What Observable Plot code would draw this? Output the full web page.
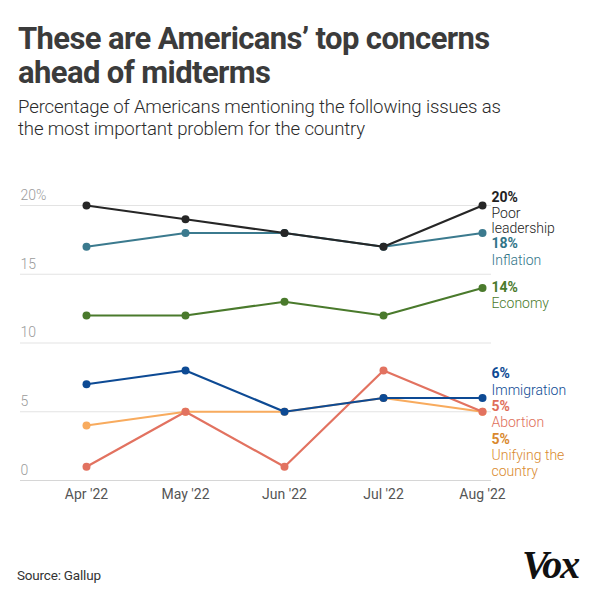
<!DOCTYPE html>
<html>
<head>
<meta charset="utf-8">
<script src="https://cdn.jsdelivr.net/npm/d3@7"></script>
<script src="https://cdn.jsdelivr.net/npm/@observablehq/plot@0.6"></script>
<style>
  html, body { margin: 0; padding: 0; background: #fff; }
  #wrap { position: relative; width: 600px; height: 600px; overflow: hidden; font-family: Roboto, "Noto Sans", sans-serif; }
  #chart { position: absolute; left: 0; top: 0; }
  .title { position: absolute; left: 18px; top: 22px; width: 580px; font-size: 31px; line-height: 34px; font-weight: 700; color: #3b3b3b; letter-spacing: -0.6px; }
  .subtitle { position: absolute; left: 18px; top: 96px; width: 580px; font-size: 18.6px; line-height: 22px; font-weight: 300; color: #2b2b2b; letter-spacing: -0.15px; }
  .source { position: absolute; left: 17px; top: 567px; font-size: 13.5px; font-weight: 400; color: #333; letter-spacing: -0.2px; }
  .logo { position: absolute; left: 522px; top: 541px; font-family: "Liberation Serif", serif; font-style: italic; font-weight: 700; font-size: 40px; letter-spacing: -2px; color: #111; }
</style>
</head>
<body>
<div id="wrap">
  <div id="chart"></div>
  <div class="title">These are Americans’ top concerns<br>ahead of midterms</div>
  <div class="subtitle">Percentage of Americans mentioning the following issues as<br>the most important problem for the country</div>
  <div class="source">Source: Gallup</div>
  <div class="logo">Vox</div>
</div>
<script>
const months = ["Apr '22", "May '22", "Jun '22", "Jul '22", "Aug '22"];
const poorLeadership = [20, 19, 18, 17, 20];
const inflation = [17, 18, 18, 17, 18];
const economy = [12, 12, 13, 12, 14];
const immigration = [7, 8, 5, 6, 6];
const abortion = [1, 5, 1, 8, 5];
const unifying = [4, 5, 5, 6, 5];
const yTicks = [0, 5, 10, 15, 20];
const yTickLabels = ["0", "5", "10", "15", "20%"];
const seriesNames = ["Unifying the country", "Abortion", "Immigration", "Economy", "Inflation", "Poor leadership"];
const seriesLabels = ["Unifying the\ncountry", "Abortion", "Immigration", "Economy", "Inflation", "Poor\nleadership"];
const seriesValues = [unifying, abortion, immigration, economy, inflation, poorLeadership];

// styles
const lineColor = {
  "Unifying the country": "#f8ab5e",
  "Abortion": "#e27260",
  "Immigration": "#0d4a94",
  "Economy": "#4a7a2c",
  "Inflation": "#3b7a8e",
  "Poor leadership": "#262626"
};
const textColor = {
  "Unifying the country": "#d9892e",
  "Abortion": "#e06e5a",
  "Immigration": "#0d4a94",
  "Economy": "#4a7a2c",
  "Inflation": "#2f7488",
  "Poor leadership": "#222"
};
// pixel nudges for the end labels [percent dy, name dy]
const labelNudge = {
  "Unifying the country": [28, 51.5],
  "Abortion": [-5, 10],
  "Immigration": [-24.5, -8.5],
  "Economy": [-0.5, 14.5],
  "Inflation": [10.5, 26.5],
  "Poor leadership": [-8, 15]
};

const rows = [];
seriesNames.forEach((s, si) => {
  months.forEach((m, mi) => rows.push({series: s, month: m, value: seriesValues[si][mi]}));
});
const last = seriesNames.map((s, si) => ({series: s, label: seriesLabels[si], month: months[months.length - 1], value: seriesValues[si][months.length - 1]}));

const marks = [
  Plot.ruleY(yTicks, {stroke: d => d === 0 ? "#d6d6d6" : "#e3e3e3", strokeWidth: 1.2}),
  Plot.text(yTicks, {y: d => d, text: (d, i) => yTickLabels[i], frameAnchor: "left", textAnchor: "start", dy: -10, fill: "#9b9b9b", fontSize: 14, fontWeight: 300}),
  Plot.axisX({tickSize: 0, tickPadding: 9, fontSize: 14, color: "#555", label: null})
];
seriesNames.forEach(s => {
  const data = rows.filter(r => r.series === s);
  marks.push(Plot.line(data, {x: "month", y: "value", stroke: lineColor[s], strokeWidth: 2.2}));
  marks.push(Plot.dot(data, {x: "month", y: "value", fill: lineColor[s], r: 4}));
});
last.forEach(d => {
  const [d1, d2] = labelNudge[d.series];
  marks.push(Plot.text([d], {x: "month", y: "value", text: r => r.value + "%", textAnchor: "start", dx: 9, dy: d1, fill: textColor[d.series], fontWeight: 700, fontSize: 14}));
  marks.push(Plot.text([d], {x: "month", y: "value", text: "label", textAnchor: "start", dx: 9, dy: d2, fill: textColor[d.series], fontWeight: 300, fontSize: 14, lineHeight: 1.12}));
});

const chart = Plot.plot({
  width: 600,
  height: 600,
  marginTop: 205,
  marginBottom: 120,
  marginLeft: 20,
  marginRight: 109,
  style: {background: "transparent", fontFamily: "Roboto, sans-serif"},
  x: {type: "point", domain: months, padding: 0, insetLeft: 65, insetRight: 9, axis: null},
  y: {domain: [0, 20], axis: null},
  marks
});
document.getElementById("chart").appendChild(chart);
</script>
</body>
</html>
